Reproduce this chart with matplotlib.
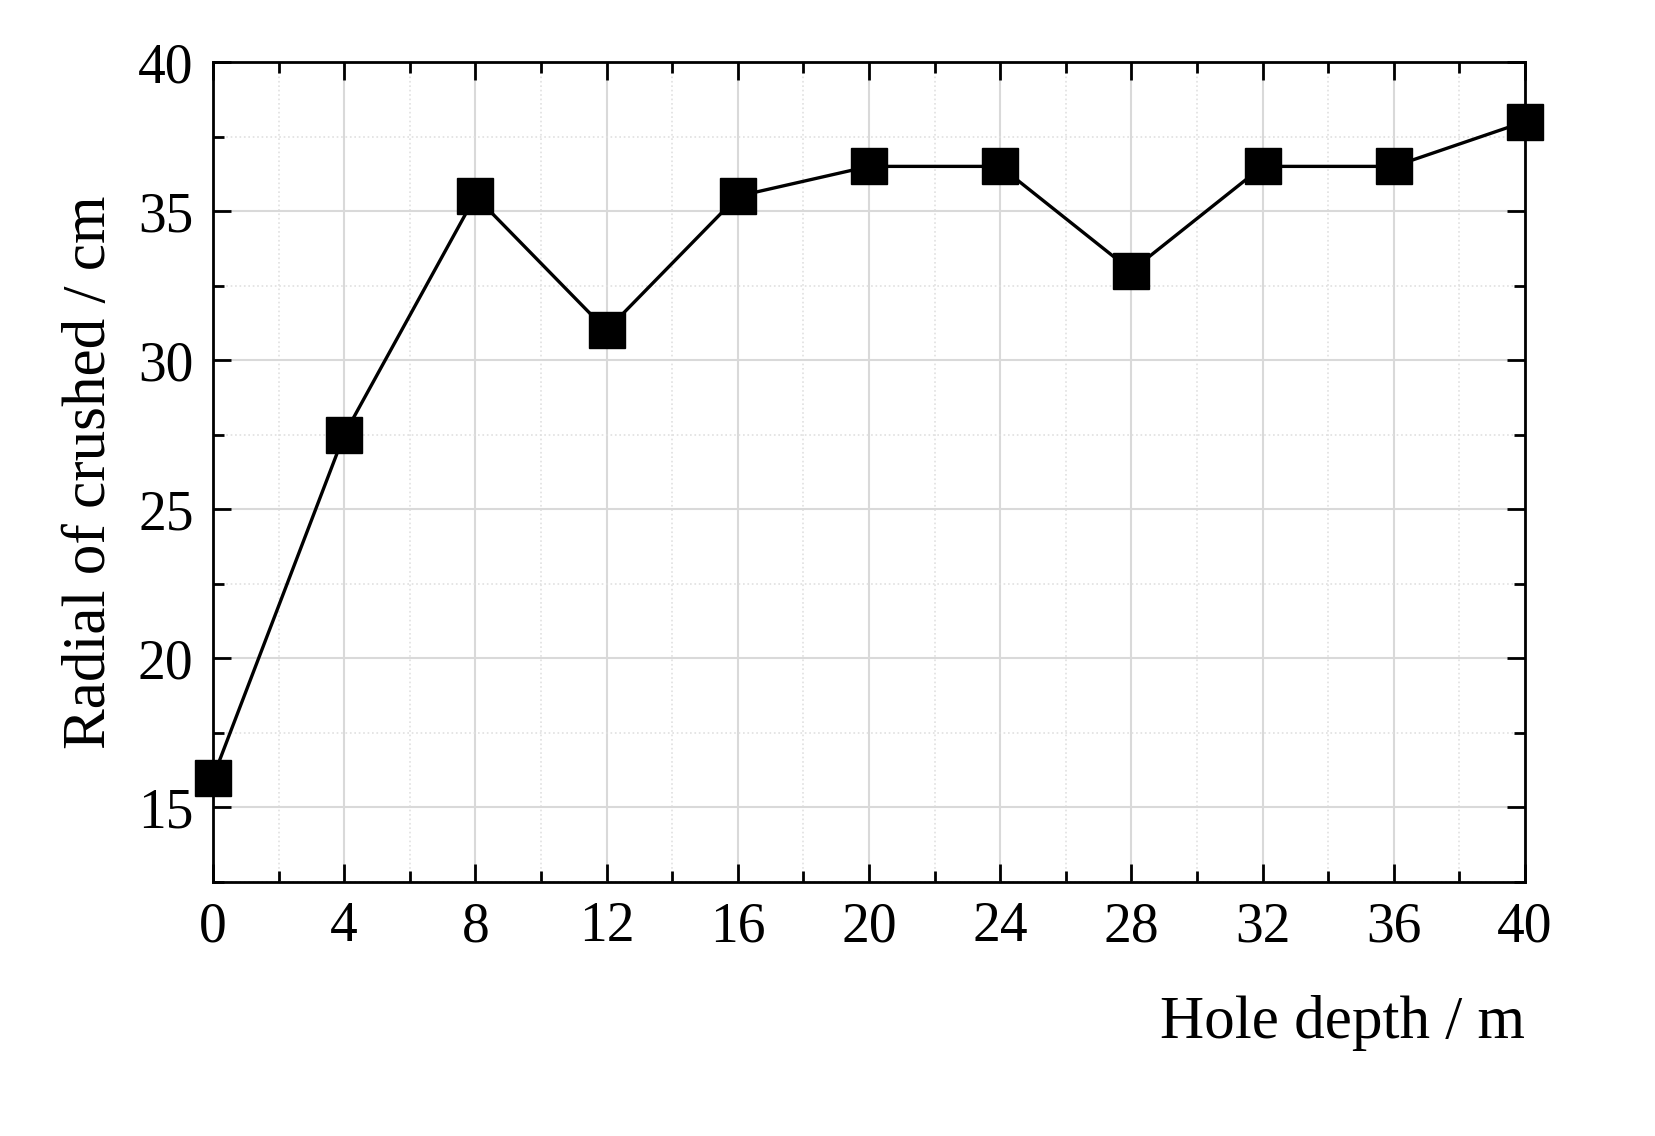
import matplotlib
matplotlib.use('Agg')
import matplotlib.pyplot as plt
from matplotlib.ticker import MultipleLocator

# Hole depth (m) and radial of crushed zone (cm)
depth = [0, 4, 8, 12, 16, 20, 24, 28, 32, 36, 40]
radius = [16, 27.5, 35.5, 31, 35.5, 36.5, 36.5, 33, 36.5, 36.5, 38]

plt.rcParams['font.family'] = ['Liberation Serif', 'DejaVu Serif']

fig = plt.figure(figsize=(16.56, 11.36), dpi=100)
ax = fig.add_axes([0.1286, 0.2236, 0.7923, 0.7218])

ax.plot(depth, radius, color='black', linewidth=2.4, marker='s',
        markersize=26, markerfacecolor='black', clip_on=False, zorder=5)

ax.set_xlim(0, 40)
ax.set_ylim(12.5, 40)
ax.xaxis.set_major_locator(MultipleLocator(4))
ax.xaxis.set_minor_locator(MultipleLocator(2))
ax.yaxis.set_major_locator(MultipleLocator(5))
ax.yaxis.set_minor_locator(MultipleLocator(2.5))

ax.grid(which='major', color='#d9d9d9', linewidth=1.5)
ax.grid(which='minor', color='#e0e0e0', linewidth=1.2, linestyle=':')

ax.tick_params(which='both', direction='in', top=True, right=True,
               width=2, labelsize=40)
ax.tick_params(which='major', length=13, pad=14)
ax.tick_params(which='minor', length=8)
for s in ax.spines.values():
    s.set_linewidth(2)

ax.set_ylabel('Radial of crushed / cm', fontsize=44, labelpad=14)
ax.set_xlabel('Hole depth / m', fontsize=44, loc='right', labelpad=30)

fig.savefig('out.png', dpi=100)
